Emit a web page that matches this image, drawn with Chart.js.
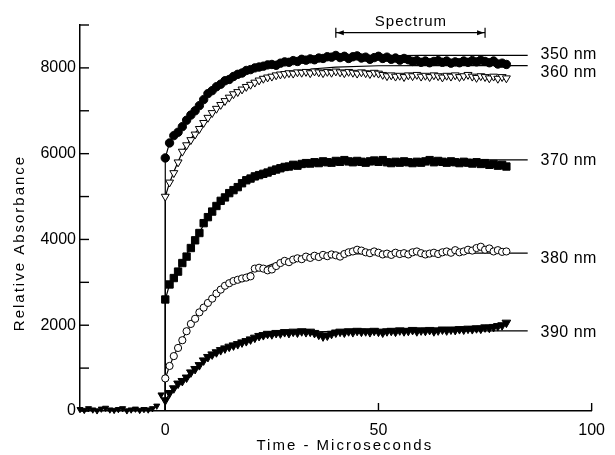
<!DOCTYPE html>
<html><head><meta charset="utf-8">
<script src="https://cdn.jsdelivr.net/npm/chart.js@4"></script>
<style>html,body{margin:0;padding:0;background:#fff}#wrap{width:615px;height:455px;position:relative}</style>
</head><body><div id="wrap"><canvas id="c" width="615" height="455"></canvas></div>
<script>
// ---- data ----
const times = [0,1,2,3,4,5,6,7,8,9,10,11,12,13,14,15,16,17,18,19,20,21,22,23,24,25,26,27,28,29,30,31,32,33,34,35,36,37,38,39,40,41,42,43,44,45,46,47,48,49,50,51,52,53,54,55,56,57,58,59,60,61,62,63,64,65,66,67,68,69,70,71,72,73,74,75,76,77,78,79,80];
const baseTimes = [-20,-19,-18,-17,-16,-15,-14,-13,-12,-11,-10,-9,-8,-7,-6,-5,-4,-3,-2,-1];
const baseValues = [40,20,60,30,10,50,70,30,20,40,60,10,30,50,20,40,30,60,120,380];

const v350 = [5900,6250,6420,6500,6630,6780,6900,7000,7120,7260,7400,7470,7560,7620,7700,7730,7800,7850,7880,7940,7960,8000,8020,8040,8070,8080,8060,8110,8140,8130,8170,8150,8200,8180,8210,8190,8230,8220,8260,8250,8290,8240,8270,8220,8260,8280,8230,8250,8200,8240,8270,8220,8250,8200,8230,8180,8220,8190,8150,8170,8130,8160,8120,8150,8170,8130,8160,8110,8140,8120,8160,8130,8170,8140,8180,8150,8120,8160,8090,8110,8080];
const v360 = [5000,5330,5550,5800,6050,6200,6320,6450,6580,6720,6840,6950,7050,7140,7230,7310,7390,7440,7500,7560,7610,7660,7710,7750,7780,7800,7830,7850,7860,7880,7870,7900,7890,7910,7880,7920,7900,7880,7910,7890,7920,7900,7880,7910,7890,7870,7900,7880,7860,7890,7870,7840,7810,7830,7800,7820,7790,7830,7810,7840,7800,7820,7790,7830,7810,7780,7820,7800,7830,7790,7810,7840,7800,7770,7810,7790,7760,7800,7750,7790,7760];
const v370 = [2600,2950,3100,3250,3450,3600,3800,3980,4150,4380,4520,4650,4780,4900,4980,5080,5150,5220,5310,5380,5420,5470,5500,5530,5560,5600,5630,5660,5690,5700,5740,5720,5760,5780,5770,5800,5780,5820,5800,5790,5830,5810,5850,5820,5800,5830,5810,5790,5820,5840,5810,5850,5800,5780,5810,5790,5820,5800,5780,5810,5790,5820,5850,5800,5830,5810,5790,5820,5800,5780,5810,5790,5770,5800,5760,5780,5740,5760,5720,5740,5700];
const v380 = [760,1050,1280,1470,1650,1860,2030,2150,2300,2410,2520,2620,2740,2830,2920,2980,3030,3060,3090,3110,3140,3320,3340,3320,3280,3300,3380,3450,3500,3470,3530,3560,3540,3600,3570,3620,3590,3640,3610,3650,3630,3600,3660,3700,3720,3760,3740,3700,3680,3720,3690,3650,3670,3640,3690,3660,3680,3650,3700,3720,3680,3650,3670,3690,3660,3700,3720,3690,3750,3700,3720,3760,3740,3800,3830,3760,3790,3720,3750,3710,3720];
const v390 = [250,420,530,640,700,780,900,980,1070,1180,1260,1320,1370,1420,1460,1500,1530,1560,1600,1630,1670,1710,1750,1770,1800,1790,1820,1810,1840,1820,1850,1830,1860,1840,1850,1820,1780,1740,1760,1800,1830,1850,1830,1860,1840,1870,1850,1860,1840,1870,1850,1830,1860,1870,1850,1880,1860,1870,1890,1860,1880,1870,1890,1860,1880,1900,1880,1900,1890,1910,1900,1920,1910,1930,1920,1950,1940,1960,1980,2000,2060];

const fitTimes = [0,0,1,2,4,6,8,10,13,16,20,25,30,35,40,50,60,85];
const fit350 = [0,5900,6250,6420,6660,6920,7150,7380,7630,7800,7970,8090,8170,8220,8250,8280,8290,8290];
const fit360 = [0,5000,5320,5580,6040,6350,6600,6830,7130,7370,7600,7790,7910,7980,8020,8050,8055,8055];
const fit370 = [0,2600,2950,3130,3480,3820,4170,4500,4880,5150,5400,5600,5720,5790,5830,5850,5855,5855];
const fit380 = [0,760,1040,1290,1680,2010,2300,2520,2820,3030,3230,3420,3540,3610,3650,3675,3680,3680];
const fit390 = [0,250,400,520,730,900,1060,1230,1410,1540,1660,1760,1820,1845,1855,1866,1870,1870];

const curveLabels = ['350 nm','360 nm','370 nm','380 nm','390 nm'];
const curveLabelValues = [8300,7880,5850,3545,1820];
const curveLabelTime = 88;

const spectrumText = 'Spectrum';
const spectrumStart = 40, spectrumEnd = 75, spectrumLevel = 8820, spectrumTextLevel = 9080;

const xTickValues = [0,50,100];
const yTickValues = [0,2000,4000,6000,8000];
const yMinorValues = [1000,3000,5000,7000,9000];

// ---- chart ----
const pts = (xs, ys) => xs.map((t,i)=>({x:t, y:ys[i]}));
const marker = (label, xs, ys, style, fill, r, rot) => ({
  label, data: pts(xs, ys), showLine:false, clip:false,
  pointStyle: style, pointRadius: r, pointRotation: rot||0,
  pointBackgroundColor: fill, pointBorderColor:'#000', pointBorderWidth:1, order:1
});
const fitLine = (label, ys) => ({
  label, data: pts(fitTimes, ys), showLine:true, pointRadius:0,
  borderColor:'#000', borderWidth:1.2, tension:0, fill:false, order:5
});

const inwardTicks = {
  id:'inwardTicks',
  afterDraw(chart){
    const {ctx, chartArea:ca, scales:{x,y}} = chart;
    ctx.save();
    ctx.strokeStyle='#000'; ctx.lineWidth=1.4;
    [...yTickValues, ...yMinorValues].forEach(v=>{
      const py = y.getPixelForValue(v);
      ctx.beginPath(); ctx.moveTo(ca.left, py); ctx.lineTo(ca.left+9, py); ctx.stroke();
    });
    xTickValues.forEach(v=>{
      const px = x.getPixelForValue(v);
      ctx.beginPath(); ctx.moveTo(px, ca.bottom); ctx.lineTo(px, ca.bottom-8); ctx.stroke();
    });
    // spectrum bracket
    const sy = y.getPixelForValue(spectrumLevel);
    const sx0 = x.getPixelForValue(spectrumStart), sx1 = x.getPixelForValue(spectrumEnd);
    ctx.lineWidth=1.2;
    ctx.beginPath(); ctx.moveTo(sx0, sy); ctx.lineTo(sx1, sy); ctx.stroke();
    ctx.beginPath(); ctx.moveTo(sx0, sy-5); ctx.lineTo(sx0, sy+5); ctx.moveTo(sx1, sy-5); ctx.lineTo(sx1, sy+5); ctx.stroke();
    ctx.fillStyle='#000';
    ctx.beginPath(); ctx.moveTo(sx0+1, sy); ctx.lineTo(sx0+8, sy-2.5); ctx.lineTo(sx0+8, sy+2.5); ctx.closePath(); ctx.fill();
    ctx.beginPath(); ctx.moveTo(sx1-1, sy); ctx.lineTo(sx1-8, sy-2.5); ctx.lineTo(sx1-8, sy+2.5); ctx.closePath(); ctx.fill();
    ctx.font = '15px "Liberation Sans", Arial, sans-serif';
    ctx.letterSpacing = '1px';
    ctx.textAlign='center'; ctx.textBaseline='middle';
    ctx.fillText(spectrumText, (sx0+sx1)/2 + 0.5, y.getPixelForValue(spectrumTextLevel));
    // curve labels
    ctx.font = '16px "Liberation Sans", Arial, sans-serif';
    ctx.letterSpacing = '0.5px';
    ctx.textAlign='left';
    curveLabels.forEach((t,i)=>{
      ctx.fillText(t, x.getPixelForValue(curveLabelTime), y.getPixelForValue(curveLabelValues[i]));
    });
    ctx.restore();
  }
};

const titleTweak = {
  id:'titleTweak',
  beforeDraw(chart){
    const ctx = chart.ctx;
    [['x',9,0],['y',0,25]].forEach(([id,dx,dy])=>{
      const s = chart.scales[id];
      if (s.__tw) return;
      const orig = s.drawTitle;
      s.drawTitle = function(){ ctx.save(); ctx.letterSpacing='2px'; ctx.translate(dx,dy); orig.apply(this, arguments); ctx.restore(); };
      s.__tw = true;
    });
  }
};

const tickFont = {family:'"Liberation Sans", Arial, sans-serif', size:16};
const titleFont = {family:'"Liberation Sans", Arial, sans-serif', size:15};

new Chart(document.getElementById('c'), {
  type:'scatter',
  data:{ datasets:[
    marker('baseline', baseTimes, baseValues, 'triangle', '#000', 3.5, 180),
    marker('350 nm', times, v350, 'circle', '#000', 4.2),
    marker('360 nm', times, v360, 'triangle', '#fff', 4.6, 180),
    marker('370 nm', times, v370, 'rect', '#000', 5.2),
    marker('380 nm', times, v380, 'circle', '#fff', 3.6),
    marker('390 nm', times, v390, 'triangle', '#000', 5, 180),
    fitLine('350 nm fit', fit350),
    fitLine('360 nm fit', fit360),
    fitLine('370 nm fit', fit370),
    fitLine('380 nm fit', fit380),
    fitLine('390 nm fit', fit390)
  ]},
  options:{
    responsive:false, animation:false, devicePixelRatio:1,
    layout:{padding:{top:25, right:15, bottom:0, left:0}},
    plugins:{legend:{display:false}, tooltip:{enabled:false}},
    scales:{
      x:{ type:'linear', min:-20, max:100,
        afterBuildTicks(s){ s.ticks = xTickValues.map(v=>({value:v})); },
        afterFit(s){ s.height = 44; },
        grid:{display:false, drawTicks:false},
        border:{display:true, color:'#000', width:1.5},
        ticks:{color:'#000', font:tickFont, padding:10, maxRotation:0, autoSkip:false, callback:(v)=>String(v)},
        title:{display:true, text:'Time - Microseconds', color:'#000', font:titleFont, padding:{top:0,bottom:0}}
      },
      y:{ type:'linear', min:0, max:9000,
        afterBuildTicks(s){ s.ticks = yTickValues.map(v=>({value:v})); },
        afterFit(s){ s.width = 80; },
        grid:{display:false, drawTicks:false},
        border:{display:true, color:'#000', width:1.5},
        ticks:{color:'#000', font:tickFont, padding:4, autoSkip:false, callback:(v)=>String(v)},
        title:{display:true, text:'Relative Absorbance', color:'#000', font:titleFont, padding:{top:11,bottom:0}}
      }
    }
  },
  plugins:[inwardTicks, titleTweak]
});
</script></body></html>
